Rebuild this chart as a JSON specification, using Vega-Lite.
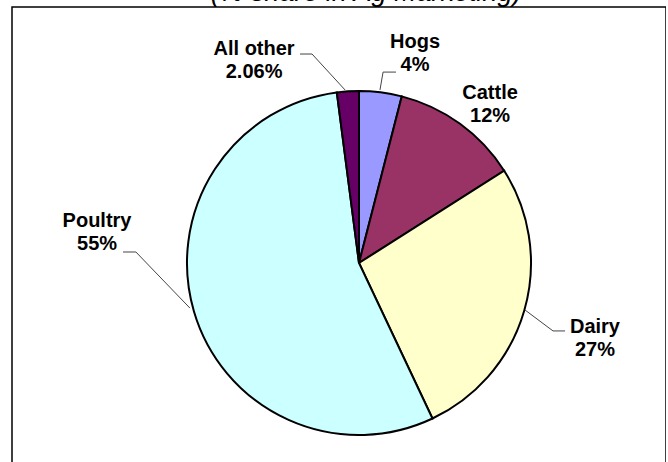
{
  "$schema": "https://vega.github.io/schema/vega-lite/v6.json",
  "autosize": "none",
  "width": 654,
  "height": 470,
  "padding": {"left": 12, "top": 7, "right": 0, "bottom": 0},
  "background": "white",
  "view": {"stroke": "black", "strokeWidth": 1.5},
  "datasets": {
    "slices": [
      {"category": "Hogs", "share": 4, "ord": 1, "cx": 0, "cy": 0},
      {"category": "Cattle", "share": 12, "ord": 2, "cx": 0, "cy": 0},
      {"category": "Dairy", "share": 27, "ord": 3, "cx": 0, "cy": 0},
      {"category": "Poultry", "share": 55, "ord": 4, "cx": 0, "cy": 0},
      {"category": "All other", "share": 2.06, "ord": 5, "cx": 0, "cy": 0}
    ],
    "labels": [
      {"label": "All other\n2.06%", "lx": -0.61, "ly": 1.209},
      {"label": "Hogs\n4%", "lx": 0.326, "ly": 1.25},
      {"label": "Cattle\n12%", "lx": 0.762, "ly": 0.953},
      {"label": "Poultry\n55%", "lx": -1.523, "ly": 0.209},
      {"label": "Dairy\n27%", "lx": 1.372, "ly": -0.407}
    ],
    "heading": [
      {"text": "(% share in Ag Marketing)", "tx": 0.041, "ty": 1.524}
    ],
    "leaders": [
      {"grp": "All other", "seq": 1, "px": -0.343, "py": 1.215},
      {"grp": "All other", "seq": 2, "px": -0.273, "py": 1.215},
      {"grp": "All other", "seq": 3, "px": -0.081, "py": 1.006},
      {"grp": "Hogs", "seq": 1, "px": 0.122, "py": 1.006},
      {"grp": "Hogs", "seq": 2, "px": 0.14, "py": 1.11},
      {"grp": "Hogs", "seq": 3, "px": 0.215, "py": 1.11},
      {"grp": "Poultry", "seq": 1, "px": -1.372, "py": 0.064},
      {"grp": "Poultry", "seq": 2, "px": -1.297, "py": 0.064},
      {"grp": "Poultry", "seq": 3, "px": -0.983, "py": -0.262},
      {"grp": "Dairy", "seq": 1, "px": 0.965, "py": -0.273},
      {"grp": "Dairy", "seq": 2, "px": 1.128, "py": -0.395},
      {"grp": "Dairy", "seq": 3, "px": 1.198, "py": -0.395}
    ]
  },
  "layer": [
    {
      "data": {"name": "slices"},
      "mark": {"type": "arc", "outerRadius": 172, "stroke": "black", "strokeWidth": 2},
      "encoding": {
        "x": {"field": "cx", "type": "quantitative", "scale": {"domain": [-2.0174, 1.7849], "nice": false, "zero": false}, "axis": null},
        "y": {"field": "cy", "type": "quantitative", "scale": {"domain": [-1.2442, 1.4884], "nice": false, "zero": false}, "axis": null},
        "theta": {"field": "share", "type": "quantitative", "stack": true},
        "order": {"field": "ord", "type": "quantitative"},
        "color": {
          "field": "category",
          "type": "nominal",
          "scale": {
            "domain": ["Hogs", "Cattle", "Dairy", "Poultry", "All other"],
            "range": ["#9999FF", "#993366", "#FFFFCC", "#CCFFFF", "#660066"]
          },
          "legend": null
        }
      }
    },
    {
      "data": {"name": "leaders"},
      "mark": {"type": "line", "color": "#444444", "strokeWidth": 1},
      "encoding": {
        "x": {"field": "px", "type": "quantitative"},
        "y": {"field": "py", "type": "quantitative"},
        "detail": {"field": "grp"},
        "order": {"field": "seq", "type": "quantitative"}
      }
    },
    {
      "data": {"name": "labels"},
      "mark": {"type": "text", "font": "Liberation Sans", "fontSize": 20, "fontWeight": "bold", "color": "black", "align": "center", "baseline": "alphabetic", "lineBreak": "\n", "lineHeight": 23},
      "encoding": {
        "x": {"field": "lx", "type": "quantitative"},
        "y": {"field": "ly", "type": "quantitative"},
        "text": {"field": "label"}
      }
    },
    {
      "data": {"name": "heading"},
      "mark": {"type": "text", "font": "Liberation Sans", "fontSize": 27, "fontStyle": "italic", "color": "black", "align": "center", "baseline": "alphabetic", "clip": false},
      "encoding": {
        "x": {"field": "tx", "type": "quantitative"},
        "y": {"field": "ty", "type": "quantitative"},
        "text": {"field": "text"}
      }
    }
  ]
}
